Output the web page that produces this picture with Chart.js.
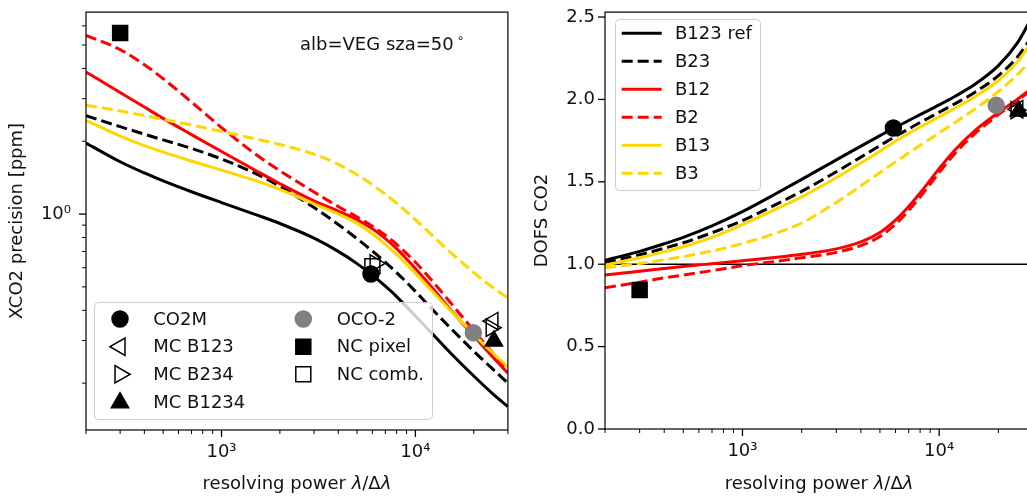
<!DOCTYPE html>
<html><head><meta charset="utf-8">
<script src="https://cdn.jsdelivr.net/npm/chart.js@4.4.0/dist/chart.umd.min.js"></script>
<style>
html,body{margin:0;padding:0;background:#fff;overflow:hidden;width:1027px;height:497px;position:relative;}
#ca{position:absolute;left:0;top:0;}
#cb{position:absolute;left:520px;top:0;}
</style></head><body>
<canvas id="ca" width="520" height="497"></canvas>
<canvas id="cb" width="530" height="497"></canvas>
<script>
// ---------- data ----------
const xVals = [200,300,400,500,700,1000,1500,2000,3000,4000,5000,6000,7000,8000,10000,12000,15000,20000,25000,30000];

// XCO2 precision [ppm]
const precB123 = [1.968,1.646,1.479,1.371,1.237,1.116,0.995,0.914,0.795,0.701,0.624,0.559,0.503,0.456,0.379,0.325,0.269,0.214,0.181,0.160];
const precB23  = [2.551,2.298,2.139,2.026,1.868,1.690,1.469,1.303,1.064,0.906,0.791,0.703,0.632,0.573,0.479,0.410,0.341,0.271,0.229,0.200];
const precB12  = [3.867,3.182,2.769,2.486,2.131,1.814,1.514,1.335,1.133,1.029,0.948,0.869,0.792,0.720,0.596,0.504,0.407,0.313,0.257,0.220];
const precB2   = [5.486,4.787,4.146,3.629,2.905,2.279,1.767,1.511,1.234,1.075,0.973,0.891,0.817,0.750,0.632,0.538,0.435,0.330,0.267,0.226];
const precB13  = [2.439,2.101,1.919,1.803,1.657,1.520,1.374,1.264,1.102,1.001,0.915,0.829,0.750,0.681,0.569,0.487,0.403,0.318,0.267,0.233];
const precB3   = [2.819,2.669,2.553,2.463,2.333,2.196,2.044,1.939,1.769,1.606,1.454,1.322,1.207,1.109,0.948,0.828,0.700,0.573,0.498,0.450];

// DOFS CO2
const dofsB123 = [1.024,1.078,1.124,1.163,1.233,1.319,1.432,1.515,1.633,1.717,1.780,1.831,1.872,1.908,1.967,2.018,2.087,2.205,2.343,2.511];
const dofsB23  = [1.009,1.057,1.097,1.130,1.191,1.265,1.366,1.442,1.561,1.650,1.720,1.776,1.821,1.860,1.922,1.973,2.039,2.145,2.258,2.390];
const dofsB12  = [0.935,0.958,0.974,0.986,1.003,1.021,1.042,1.060,1.093,1.135,1.192,1.267,1.350,1.432,1.580,1.692,1.805,1.920,2.002,2.072];
const dofsB2   = [0.857,0.891,0.917,0.934,0.961,0.991,1.018,1.039,1.072,1.113,1.168,1.243,1.326,1.408,1.556,1.671,1.787,1.908,1.993,2.066];
const dofsB13  = [0.995,1.039,1.075,1.106,1.163,1.241,1.338,1.409,1.525,1.614,1.686,1.746,1.794,1.832,1.895,1.946,2.012,2.115,2.228,2.360];
const dofsB3   = [0.979,1.004,1.027,1.046,1.080,1.126,1.191,1.250,1.375,1.476,1.556,1.621,1.675,1.721,1.797,1.859,1.937,2.048,2.151,2.249];

const seriesLabels = ['B123 ref','B23','B12','B2','B13','B3'];

// instrument markers
const markerLabels = ['CO2M','MC B123','MC B234','MC B1234','OCO-2','NC pixel','NC comb.'];
const precMarkerX = [[5900],[25100],[6200,24600],[25400],[19900],[300],[6000]];
const precMarkerY = [[0.565],[0.361],[0.625,0.339],[0.299],[0.323],[5.61],[0.608]];
const dofsMarkerX = [[5850],[25100],[24600],[25400],[19500],[300],[]];
const dofsMarkerY = [[1.827],[1.94],[1.935],[1.93],[1.964],[0.843],[]];

// ticks
const xTickVals = [200,300,400,500,600,700,800,900,1000,2000,3000,4000,5000,6000,7000,8000,9000,10000,20000,30000];
const xTickText = ['','','','','','','','','10³','','','','','','','','','10⁴','',''];
const precTickVals = [0.2,0.3,0.4,0.5,0.6,0.7,0.8,0.9,1,2,3,4,5,6];
const precTickText = ['','','','','','','','','10⁰','','','','',''];
const dofsTickVals = [0,0.5,1,1.5,2,2.5];
const dofsTickText = ['0.0','0.5','1.0','1.5','2.0','2.5'];

// ---------- styles ----------
const FONT = 'DejaVu Sans';
const TXT = '#111';
const lineStyles = [
  {color:'#000000', dash:[]},
  {color:'#000000', dash:[11,5]},
  {color:'#ff0000', dash:[]},
  {color:'#ff0000', dash:[11,5]},
  {color:'#ffd700', dash:[]},
  {color:'#ffd700', dash:[11,5]}
];
const markerStyles = [
  {style:'circle',  r:8,    fill:'#000000', stroke:'#000000', rot:0},
  {style:'triangle',r:10,   fill:'rgba(0,0,0,0)', stroke:'#000000', rot:-90},
  {style:'triangle',r:10,   fill:'rgba(0,0,0,0)', stroke:'#000000', rot:90},
  {style:'triangle',r:10,   fill:'#000000', stroke:'#000000', rot:0},
  {style:'circle',  r:8,    fill:'#808080', stroke:'#808080', rot:0},
  {style:'rect',    r:10.6, fill:'#000000', stroke:'#000000', rot:0},
  {style:'rect',    r:10.6, fill:'rgba(0,0,0,0)', stroke:'#000000', rot:0}
];

function lineDatasets(arrs){
  return arrs.map((arr,i)=>({
    type:'line', label:seriesLabels[i],
    data:xVals.map((x,j)=>({x:x,y:arr[j]})),
    borderColor:lineStyles[i].color, borderWidth:3, borderDash:lineStyles[i].dash,
    borderJoinStyle:'round', pointRadius:0, fill:false,
    cubicInterpolationMode:'monotone', order:10-i
  }));
}
function markerDatasets(xs, ys){
  return xs.map((xa,i)=>({
    type:'line', label:markerLabels[i], showLine:false,
    data:xa.map((x,j)=>({x:x,y:ys[i][j]})),
    pointStyle:markerStyles[i].style, pointRadius:markerStyles[i].r,
    pointRotation:markerStyles[i].rot,
    pointBackgroundColor:markerStyles[i].fill, pointBorderColor:markerStyles[i].stroke,
    pointBorderWidth:1.5, order:1, clip:false
  }));
}

function drawMarker(ctx, m, x, y){
  ctx.save(); ctx.beginPath();
  if (m.style==='circle') ctx.arc(x,y,m.r,0,Math.PI*2);
  else if (m.style==='rect'){ const s=Math.SQRT1_2*m.r; ctx.rect(x-s,y-s,2*s,2*s); }
  else { let a=m.rot*Math.PI/180; for(let k=0;k<3;k++){ const px=x+Math.sin(a)*m.r, py=y-Math.cos(a)*m.r; if(k) ctx.lineTo(px,py); else ctx.moveTo(px,py); a+=2*Math.PI/3; } ctx.closePath(); }
  ctx.fillStyle=m.fill; ctx.fill(); ctx.lineWidth=1.5; ctx.strokeStyle=m.stroke; ctx.stroke(); ctx.restore();
}
function roundRect(ctx,x,y,w,h,r){
  ctx.beginPath(); ctx.moveTo(x+r,y); ctx.lineTo(x+w-r,y); ctx.quadraticCurveTo(x+w,y,x+w,y+r);
  ctx.lineTo(x+w,y+h-r); ctx.quadraticCurveTo(x+w,y+h,x+w-r,y+h); ctx.lineTo(x+r,y+h);
  ctx.quadraticCurveTo(x,y+h,x,y+h-r); ctx.lineTo(x,y+r); ctx.quadraticCurveTo(x,y,x+r,y); ctx.closePath();
}

// x-axis title with italic lambda (mathtext style)
function drawXTitle(chart){
  const {ctx, chartArea:a} = chart;
  const parts = [['resolving power ',''],['λ','italic '],['/',''],['Δ',''],['λ','italic ']];
  ctx.save();
  ctx.fillStyle = TXT; ctx.textBaseline='alphabetic'; ctx.textAlign='left';
  let total = 0;
  parts.forEach(p=>{ ctx.font = p[1]+'18px "'+FONT+'"'; total += ctx.measureText(p[0]).width; });
  let x = (a.left + a.right)/2 - total/2;
  parts.forEach(p=>{ ctx.font = p[1]+'18px "'+FONT+'"'; ctx.fillText(p[0], x, 489); x += ctx.measureText(p[0]).width; });
  ctx.restore();
}

function drawFrameAndTicks(chart, yVals, yMajor){
  const {ctx, chartArea:a, scales} = chart;
  ctx.save();
  ctx.strokeStyle='#000'; ctx.lineWidth=1.2;
  ctx.strokeRect(a.left, a.top, a.right-a.left, a.bottom-a.top);
  xTickVals.forEach((v,i)=>{
    const p = scales.x.getPixelForValue(v);
    const major = xTickText[i] !== '';
    ctx.lineWidth = major?1.3:1.0;
    ctx.beginPath(); ctx.moveTo(p, a.bottom); ctx.lineTo(p, a.bottom+(major?7:4)); ctx.stroke();
  });
  yVals.forEach((v,i)=>{
    const p = scales.y.getPixelForValue(v);
    const major = yMajor(i);
    ctx.lineWidth = major?1.3:1.0;
    ctx.beginPath(); ctx.moveTo(a.left, p); ctx.lineTo(a.left-(major?7:4), p); ctx.stroke();
  });
  ctx.restore();
  drawXTitle(chart);
}

const xScaleBase = (h) => ({
  type:'logarithmic', min:200, max:30000,
  afterBuildTicks: s => { s.ticks = xTickVals.map(v=>({value:v})); },
  afterFit: s => { s.height = h; s.paddingLeft=0; s.paddingRight=0; },
  ticks:{autoSkip:false, maxRotation:0, minRotation:0, padding:5, color:TXT,
         font:{family:FONT,size:18},
         callback:(v,i)=> xTickText[i]},
  grid:{display:true, drawOnChartArea:false, drawTicks:true, tickLength:7, tickColor:'rgba(0,0,0,0)'},
  border:{display:false},
  title:{display:false}
});

Chart.defaults.font.family = FONT;

// ---------- left chart ----------
new Chart(document.getElementById('ca'), {
  type:'line',
  data:{datasets:[
    ...markerDatasets(precMarkerX, precMarkerY),
    ...lineDatasets([precB123,precB23,precB12,precB2,precB13,precB3])
  ]},
  options:{
    responsive:false, animation:false, devicePixelRatio:1,
    layout:{padding:{top:9,right:7,left:0,bottom:0}},
    plugins:{legend:{display:false}, tooltip:{enabled:false}},
    scales:{
      x: xScaleBase(67),
      y:{type:'logarithmic', min:0.128, max:6.84,
        afterBuildTicks: s => { s.ticks = precTickVals.map(v=>({value:v})); },
        afterFit: s => { s.width = 86; s.paddingTop=0; s.paddingBottom=0; },
        ticks:{autoSkip:false, padding:8, color:TXT, font:{family:FONT,size:18},
               callback:(v,i)=> precTickText[i]},
        grid:{display:true, drawOnChartArea:false, drawTicks:true, tickLength:7, tickColor:'rgba(0,0,0,0)'},
        border:{display:false},
        title:{display:true, text:'XCO2 precision [ppm]', color:TXT, font:{family:FONT,size:18}, padding:{top:7,bottom:0}}
      }
    }
  },
  plugins:[{
    id:'leftDeco',
    afterDraw(chart){
      drawFrameAndTicks(chart, precTickVals, i => precTickText[i] !== '');
      const ctx = chart.ctx;
      ctx.save();
      ctx.fillStyle = TXT; ctx.font = '18px "'+FONT+'"'; ctx.textBaseline='alphabetic'; ctx.textAlign='left';
      const t = 'alb=VEG sza=50';
      ctx.fillText(t, 300, 50);
      const w = ctx.measureText(t).width;
      ctx.font = '12px "'+FONT+'"';
      ctx.fillText('∘', 300 + w + 3, 42);
      roundRect(ctx, 94.5, 302.5, 338, 117, 4);
      ctx.fillStyle='rgba(255,255,255,0.8)'; ctx.fill();
      ctx.strokeStyle='#cccccc'; ctx.lineWidth=1; ctx.stroke();
      const rows=[319,346.7,374.3,402.7];
      ctx.font='18px "'+FONT+'"'; ctx.textBaseline='middle';
      markerLabels.forEach((lab,i)=>{
        const col = i<4?0:1, row = i<4?i:i-4;
        const mx = col? 303.3:120, tx = col? 336.7:153.3;
        drawMarker(ctx, markerStyles[i], mx, rows[row]);
        ctx.fillStyle=TXT; ctx.fillText(lab, tx, rows[row]+1);
      });
      ctx.restore();
    }
  }]
});

// ---------- right chart ----------
new Chart(document.getElementById('cb'), {
  type:'line',
  data:{datasets:[
    ...markerDatasets(dofsMarkerX, dofsMarkerY),
    ...lineDatasets([dofsB123,dofsB23,dofsB12,dofsB2,dofsB13,dofsB3]),
    {type:'line', label:'one', data:[{x:200,y:1},{x:30000,y:1}], borderColor:'#000', borderWidth:1.5, pointRadius:0, order:20}
  ]},
  options:{
    responsive:false, animation:false, devicePixelRatio:1,
    layout:{padding:{top:9,right:17,left:0,bottom:0}},
    plugins:{legend:{display:false}, tooltip:{enabled:false}},
    scales:{
      x: xScaleBase(68),
      y:{type:'linear', min:0, max:2.53,
        afterBuildTicks: s => { s.ticks = dofsTickVals.map(v=>({value:v})); },
        afterFit: s => { s.width = 85; s.paddingTop=0; s.paddingBottom=0; },
        ticks:{autoSkip:false, padding:3, color:TXT, font:{family:FONT,size:18},
               callback:(v,i)=> dofsTickText[i]},
        grid:{display:true, drawOnChartArea:false, drawTicks:true, tickLength:7, tickColor:'rgba(0,0,0,0)'},
        border:{display:false},
        title:{display:true, text:'DOFS CO2', color:TXT, font:{family:FONT,size:18}, padding:{top:12,bottom:0}}
      }
    }
  },
  plugins:[{
    id:'rightDeco',
    afterDraw(chart){
      drawFrameAndTicks(chart, dofsTickVals, () => true);
      const ctx = chart.ctx;
      ctx.save();
      roundRect(ctx, 95.5, 19.5, 145, 171, 4);
      ctx.fillStyle='rgba(255,255,255,0.8)'; ctx.fill();
      ctx.strokeStyle='#cccccc'; ctx.lineWidth=1; ctx.stroke();
      ctx.font='18px "'+FONT+'"'; ctx.textBaseline='middle'; ctx.textAlign='left';
      seriesLabels.forEach((lab,i)=>{
        const y = 33.3 + 28*i;
        ctx.save();
        ctx.strokeStyle=lineStyles[i].color; ctx.lineWidth=3; ctx.setLineDash(lineStyles[i].dash);
        ctx.beginPath(); ctx.moveTo(101.7,y); ctx.lineTo(141.7,y); ctx.stroke();
        ctx.restore();
        ctx.fillStyle=TXT; ctx.fillText(lab, 155, y+1);
      });
      ctx.restore();
    }
  }]
});
</script>
</body></html>
